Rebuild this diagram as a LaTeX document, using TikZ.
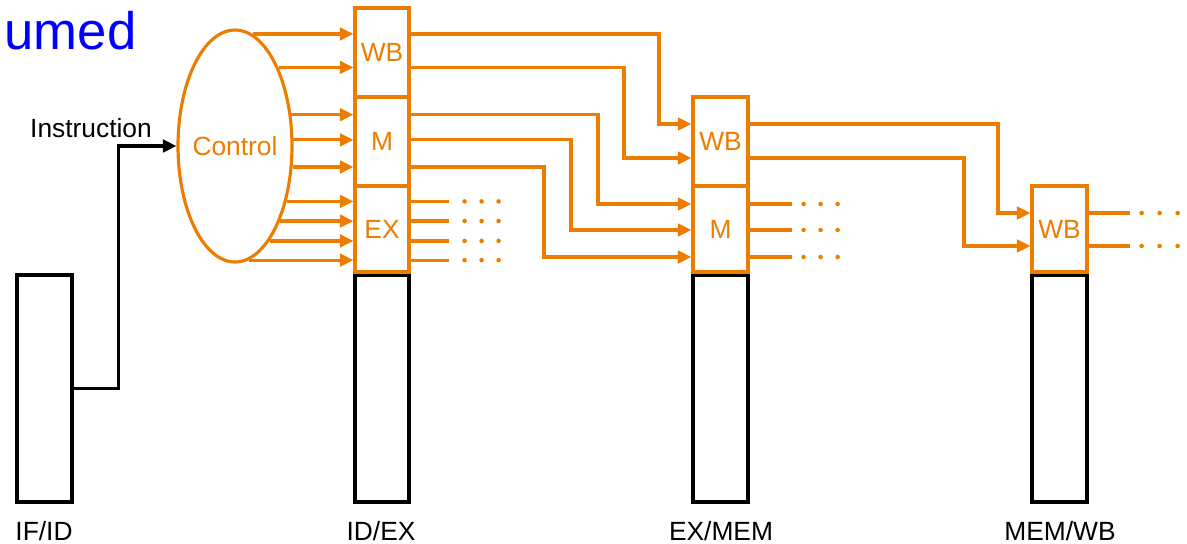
\documentclass[tikz,border=0pt]{standalone}
\usepackage{fontspec}
\setmainfont{Liberation Sans}
\usetikzlibrary{arrows.meta, shapes.geometric}
\definecolor{ctlorange}{RGB}{237,125,0}

\begin{document}
\begin{tikzpicture}[x=0.02cm, y=-0.02cm, line width=1.8pt,
  lbl/.style={font=\fontsize{15}{18}\selectfont},
  arr/.style={-{Triangle[length=0.27cm, width=0.25cm]}},
  reg/.style={draw=black, minimum width=1.1cm, inner sep=0pt},
  stage/.style={draw=ctlorange, text=ctlorange, minimum width=1.1cm, inner sep=0pt, lbl},
  sig/.style={draw=ctlorange, arr},
  wire/.style={draw=ctlorange}]
  \useasboundingbox (0,0) rectangle (1187,544);
  \node[anchor=base west, inner sep=0pt, text=blue, font=\fontsize{30}{36}\selectfont] (title) at (3,50) {umed};

  % pipeline registers
  \node[reg, minimum height=4.54cm] (ifid) at (44.5,388.5) {};
  \node[reg, minimum width=1.08cm, minimum height=4.54cm] (idexreg) at (382,388.5) {};
  \node[reg, minimum height=4.54cm] (exmemreg) at (720.5,388.5) {};
  \node[reg, minimum height=4.54cm] (memwbreg) at (1059.5,388.5) {};

  % control fields
  \node[stage, minimum width=1.08cm, minimum height=1.78cm] (idwb) at (382,52.5) {WB};
  \node[stage, minimum width=1.08cm, minimum height=1.78cm] (idm) at (382,141.5) {M};
  \node[stage, minimum width=1.08cm, minimum height=1.72cm] (idex) at (382,229) {EX};
  \node[stage, minimum height=1.78cm] (exwb) at (720.5,141.5) {WB};
  \node[stage, minimum height=1.72cm] (exm) at (720.5,229) {M};
  \node[stage, minimum height=1.72cm] (mwb) at (1059.5,229) {WB};

  \node[draw=ctlorange, ellipse, minimum width=2.28cm, minimum height=4.64cm,
        inner xsep=-0.1cm, inner ysep=0pt, text=ctlorange, lbl] (ctrl) at (235,146) {Control};

  % labels
  \node[lbl, anchor=base] (instr) at (91,137) {Instruction};
  \node[lbl, anchor=base] (ifidlbl) at (44,540) {IF/ID};
  \node[lbl, anchor=base] (idexlbl) at (381,540) {ID/EX};
  \node[lbl, anchor=base] (exmemlbl) at (721,540) {EX/MEM};
  \node[lbl, anchor=base] (memwblbl) at (1060,540) {MEM/WB};

  \draw[arr] (ifid.east) -| ([xshift=-1.16cm]ctrl.west) -- (ctrl.west);

  % control -> ID/EX
  \foreach \a [count=\i] in {81.5,61.6,29.5,6,-20.6,-47.6,-59.3,-70.4,-83.5}
    \coordinate (c\i) at (ctrl.\a);
  \foreach \i/\b in {1/idwb,2/idwb,3/idm,4/idm,5/idm,6/idex,7/idex,8/idex,9/idex}
    \draw[sig] (c\i) -- (c\i -| \b.west);

  % ID/EX -> EX/MEM
  \foreach \i/\x/\y in {1/659/124, 2/624/158, 3/598/204, 4/571/230, 5/544/257}
    \draw[sig] (c\i -| idwb.east) -| (\x,\y) -- (exwb.west |- 0,\y);

  % EX/MEM -> MEM/WB
  \foreach \y/\x/\z in {124/998/213, 158/964/246}
    \draw[sig] (exwb.east |- 0,\y) -| (\x,\z) -- (mwb.west |- 0,\z);

  % loose ends
  \foreach \i in {6,...,9} {
    \draw[wire] (c\i -| idex.east) -- ++(38,0) coordinate (t);
    \foreach \k in {1,2,3} \fill[ctlorange] (t) ++(\k*17-1,0) circle (1.3pt);
  }
  \foreach \y in {204,230,257} {
    \draw[wire] (exm.east |- 0,\y) -- ++(42,0) coordinate (t);
    \foreach \k in {1,2,3} \fill[ctlorange] (t) ++(\k*17-5,0) circle (1.3pt);
  }
  \foreach \y in {213,246} {
    \draw[wire] (mwb.east |- 0,\y) -- ++(41,0) coordinate (t);
    \foreach \k in {1,2,3} \fill[ctlorange] (t) ++(\k*18-6,0) circle (1.3pt);
  }
\end{tikzpicture}
\end{document}
